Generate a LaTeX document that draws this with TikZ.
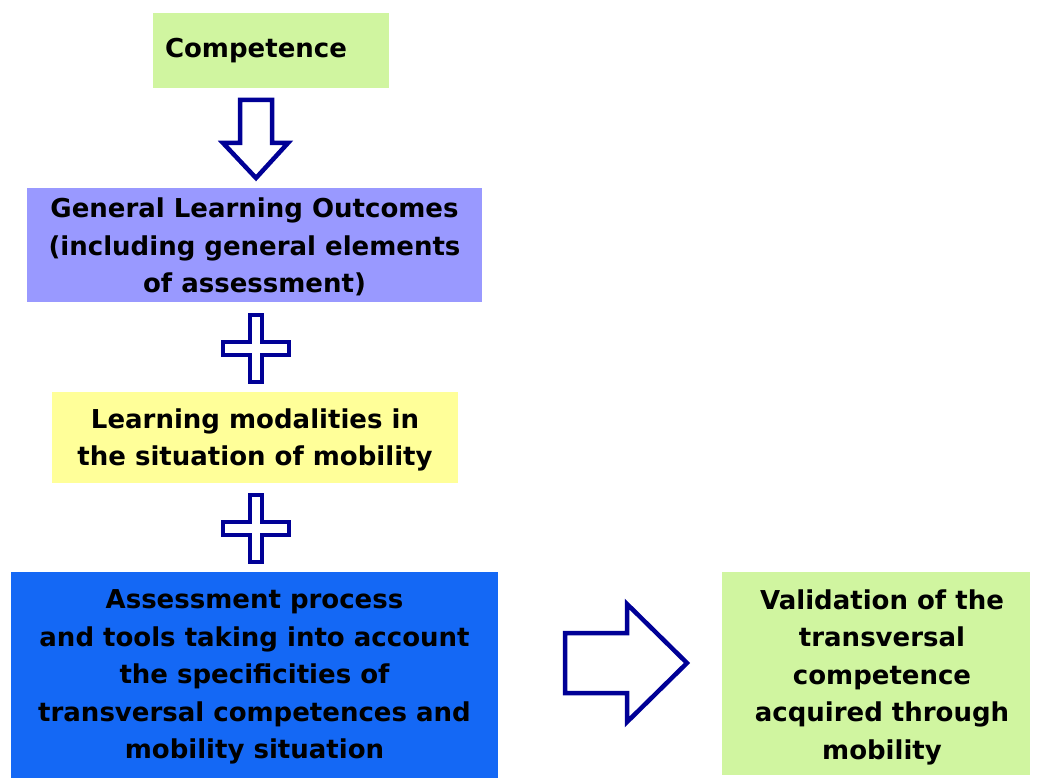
\documentclass[tikz,border=0pt]{standalone}
\usepackage{fontspec}
\setmainfont{DejaVu Sans}
\definecolor{boxgreen}{RGB}{208,245,160}
\definecolor{boxlav}{RGB}{153,153,255}
\definecolor{boxyel}{RGB}{255,255,153}
\definecolor{boxblue}{RGB}{20,104,245}
\definecolor{navy}{RGB}{0,0,150}
\tikzset{
  tbox/.style={inner sep=0pt, align=center, font=\bfseries\fontsize{26}{37.5}\selectfont, text=black},
  shapeline/.style={draw=navy, line width=4.5pt, fill=white, line join=miter},
}
\begin{document}
\begin{tikzpicture}[x=1pt,y=-1pt]
\useasboundingbox (0,0) rectangle (1039,778);
% boxes
\fill[boxgreen] (153,13) rectangle (389,88);
\node[tbox] (comp) at (256,50.5) {Competence};
\fill[boxlav] (27,188) rectangle (482,302);
\node[tbox] (glo) at (254.5,247) {General Learning Outcomes\\(including general elements\\of assessment)};
\fill[boxyel] (52,392) rectangle (458,483);
\node[tbox] (lm) at (255,440) {Learning modalities in\\the situation of mobility};
\fill[boxblue] (11,572) rectangle (498,778);
\node[tbox] (ap) at (254.5,677) {Assessment process\\and tools taking into account\\the specificities of\\transversal competences and\\mobility situation};
\fill[boxgreen] (722,572) rectangle (1030,775);
\node[tbox] (val) at (882,677) {Validation of the\\transversal\\competence\\acquired through\\mobility};
% down arrow
\draw[shapeline] (240,100) -- (272,100) -- (272,143) -- (288,143) -- (256,178) -- (223,143) -- (240,143) -- cycle;
% plus 1
\begin{scope}[shift={(256,348.5)}]
\draw[shapeline, line width=4pt] (-6,-33.5) -- (6,-33.5) -- (6,-6.5) -- (33,-6.5) -- (33,6.5) -- (6,6.5) -- (6,33.5) -- (-6,33.5) -- (-6,6.5) -- (-33,6.5) -- (-33,-6.5) -- (-6,-6.5) -- cycle;
\end{scope}
% plus 2
\begin{scope}[shift={(256,528)}]
\draw[shapeline, line width=4pt] (-6,-33.5) -- (6,-33.5) -- (6,-6.5) -- (33,-6.5) -- (33,6.5) -- (6,6.5) -- (6,33.5) -- (-6,33.5) -- (-6,6.5) -- (-33,6.5) -- (-33,-6.5) -- (-6,-6.5) -- cycle;
\end{scope}
% right arrow
\draw[shapeline] (565,633) -- (627,633) -- (627,604) -- (687,663) -- (627,722) -- (627,693) -- (565,693) -- cycle;
\end{tikzpicture}
\end{document}
